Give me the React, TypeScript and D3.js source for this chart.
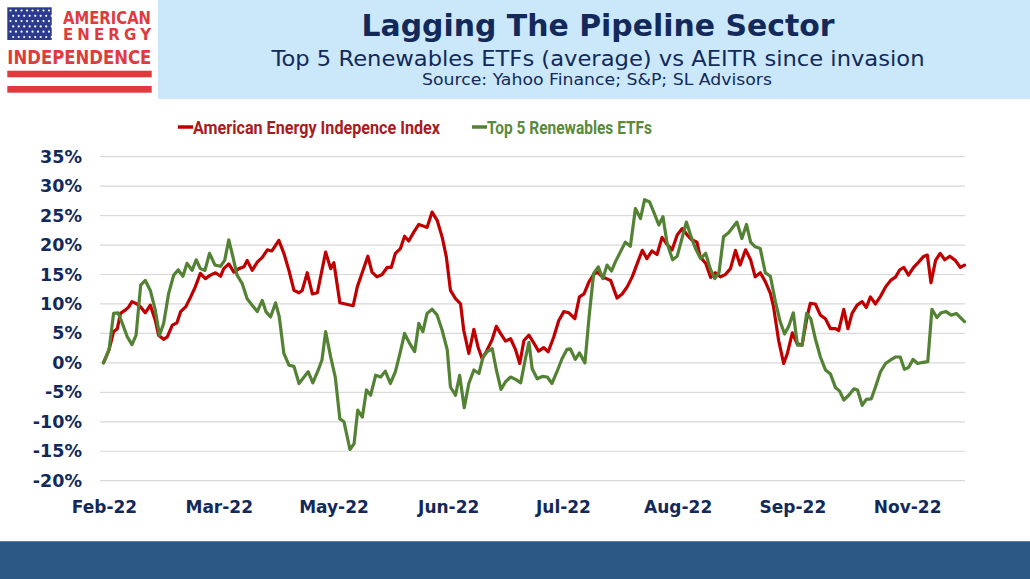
import React from "react";
import * as d3 from "d3";

// ---- DATA (trading-day index since invasion, % return) ----
const aeiPoints: [number, number][] = [
  [0, 0], [1.2, 2.2], [2.2, 5.3], [3, 5.8], [3.7, 8.4], [4.8, 9], [5.5, 9.5], [6.2, 10.4], [7.3, 10], [8.1, 9.5],
  [9.1, 8.5], [10.2, 9.8], [11.3, 7.2], [12, 4.7], [13.1, 4], [13.9, 4.4], [15, 6.4], [16, 6.8], [16.8, 8.7], [17.9, 9.5],
  [19, 11.2], [20, 12.9], [21.1, 15.2], [22.2, 14.3], [23.3, 14.9], [24.4, 15.3], [25.5, 14.7], [26.2, 16], [27.3, 16.8], [28.4, 15.4],
  [29.5, 16], [30.6, 16.3], [31.3, 17.4], [32.4, 15.7], [33.5, 17.1], [34.6, 17.9], [35.7, 19.2], [36.7, 19], [38.2, 20.8], [39.3, 18.6],
  [40.4, 15.7], [41.5, 12.3], [42.6, 11.9], [43.3, 12.3], [44.4, 15.3], [45.5, 11.7], [46.6, 11.9], [48.4, 18.8], [49.5, 16], [50.2, 17],
  [51.5, 10.2], [52.7, 10], [54.4, 9.7], [55.3, 12.9], [56.4, 15.4], [57.6, 18.1], [58.5, 15.4], [59.6, 14.6], [60.7, 15], [61.8, 16.2],
  [62.7, 16.2], [63.6, 18.6], [64.7, 19.4], [65.6, 21.5], [66.5, 20.7], [67.6, 22.2], [68.7, 23.5], [69.8, 23.2], [70.5, 23], [71.6, 25.6],
  [72.7, 24.2], [73.8, 21.3], [74.7, 18], [75.6, 12.3], [76.7, 10.9], [77.8, 10], [78.5, 5.5], [79.6, 1.6], [80.7, 5.7], [81.6, 2.7],
  [82.5, 0.7], [83.6, 2.2], [84.7, 4], [85.6, 6.2], [86.5, 5], [87.6, 3.7], [88.7, 4.1], [89.8, 2.2], [90.7, -0.1], [91.6, 3.8],
  [92.7, 4.7], [93.8, 3.3], [94.8, 2], [95.9, 2.6], [96.9, 1.9], [98.1, 4.4], [99.2, 7.2], [100.3, 8.7], [101.4, 8.5], [102.7, 7.5],
  [103.7, 11.2], [104.7, 11.7], [105.8, 13.8], [106.8, 15], [107.6, 15.4], [108.7, 14.6], [110.5, 14], [111.9, 11], [113, 11.7], [114.1, 12.9],
  [115.2, 14.6], [116.3, 16.9], [117.4, 19.1], [118.4, 17.7], [119.5, 19], [120.6, 18.4], [121.7, 21.3], [122.8, 20.1], [123.9, 19.2], [125, 21.7],
  [126.1, 22.8], [127.2, 21.7], [128.2, 20.9], [129.3, 20.5], [130, 18], [131.2, 16.9], [132.3, 14.5], [133.3, 15.3], [134.4, 14.6], [135.5, 15],
  [136.6, 16], [137.7, 19.1], [138.7, 16.6], [139.9, 19.2], [141, 17.5], [142, 14.6], [143.1, 15.3], [144.2, 13.8], [145.3, 11.8], [146, 9.5],
  [147.1, 3.8], [148.2, -0.1], [149, 1.6], [150.1, 5.1], [151.1, 3.3], [152.2, 3], [153.3, 7.8], [154, 10.1], [155.1, 10], [156.2, 8.1],
  [157.3, 7.5], [158.4, 5.8], [159.5, 5.8], [160.2, 5.5], [161.3, 9.1], [162.2, 5.8], [163.1, 8.4], [164.2, 9.8], [165.3, 10.4], [166.2, 9.4],
  [167.1, 11.2], [168.2, 10], [169.3, 11.3], [170.4, 12.9], [171.5, 14], [172.6, 14.6], [173.5, 15.8], [174.4, 16.2], [175.4, 14.9], [176.5, 16.2],
  [177.6, 17.1], [178.6, 18], [179.5, 18.3], [180.3, 13.6], [181.3, 17.4], [182.3, 18.6], [183.3, 17.5], [184.4, 18.1], [185.6, 17.4], [186.7, 16.2],
  [187.6, 16.6],
];

const renewPoints: [number, number][] = [
  [0, 0], [1.2, 2.2], [2.2, 8.4], [3.2, 8.5], [4.1, 6.7], [5.2, 4.4], [6.2, 3.1], [7.1, 4.7], [8.1, 13.2], [9.1, 14],
  [10.2, 12.3], [11.3, 8.9], [12.2, 4.7], [13.1, 6.7], [14.2, 11.8], [15.3, 14.9], [16.3, 15.8], [17.3, 14.7], [18.2, 16.9], [19.3, 15.7],
  [20.2, 17.5], [21.1, 16], [22.1, 15.7], [23.1, 18.6], [24.3, 16.6], [25.5, 16.4], [26.4, 17.4], [27.3, 20.9], [28.2, 18], [29.1, 14.9],
  [30.2, 13.5], [31.3, 10.9], [32.4, 9.8], [33.5, 8.7], [34.6, 10.6], [35.4, 8.7], [36.4, 7.8], [37.5, 10.2], [38.3, 7.8], [39.3, 1.6],
  [40.4, -0.4], [41.5, -0.6], [42.6, -3.5], [43.4, -2.7], [44.6, -1.5], [45.6, -3.4], [46.8, -1.2], [47.6, 0.5], [48.4, 5.3], [49.5, 1],
  [50.5, -2.4], [51.5, -9.5], [52.4, -10], [53.7, -14.7], [54.6, -13.7], [55.4, -8], [56.4, -9.2], [57.3, -4.6], [58.2, -5.5], [59.3, -2.1],
  [60.4, -2.4], [61.4, -1.4], [62.5, -3.5], [63.6, -1.5], [64.6, 1.6], [65.6, 5], [66.7, 3.3], [67.8, 1.9], [68.7, 6.7], [69.6, 5.3],
  [70.5, 8.4], [71.6, 9.1], [72.7, 8.1], [73.8, 5.5], [74.9, 2.2], [75.6, -4.1], [76.7, -5.5], [77.6, -2.1], [78.6, -7.6], [79.6, -3.5],
  [80.7, -1.2], [81.8, -1.8], [82.7, 1], [83.6, 1.9], [84.7, 2.4], [85.6, -1.2], [86.6, -4.5], [87.6, -3.2], [88.7, -2.4], [89.8, -2.8],
  [90.9, -3.4], [92, 1], [92.7, 3.5], [93.4, -1], [94.5, -2.7], [95.6, -2.3], [96.7, -2.4], [97.7, -3.5], [98.8, -1.5], [99.9, 0.7],
  [101, 2.3], [101.7, 2.4], [102.8, 0.6], [103.7, 1.7], [104.9, 0], [105.8, 7.8], [106.8, 15.2], [107.8, 16.3], [108.8, 14.3], [109.7, 16.6],
  [110.7, 15.6], [111.5, 17.1], [112.6, 18.8], [113.7, 20.5], [114.8, 19.8], [115.9, 26.2], [117, 24.5], [117.9, 27.7], [119, 27.3], [119.9, 25.6],
  [121, 23.4], [121.9, 24.8], [122.8, 20.3], [124, 17.5], [125, 18.1], [126.1, 21.3], [127, 23.9], [127.9, 21.7], [129, 19.4], [130.1, 17.7],
  [131.2, 18.6], [132.2, 16], [133.2, 14.3], [134.1, 15.3], [135.1, 21.4], [136.2, 22.1], [137.3, 23.2], [138, 23.9], [139.1, 21.1], [140.1, 23.5],
  [141, 20.5], [142, 19.7], [143.1, 19.4], [144.2, 15.3], [145.3, 14.7], [146.4, 10.4], [147.4, 7.1], [148.4, 4.9], [149.3, 6.2], [150.3, 8.5],
  [151.2, 3], [152.2, 3], [153.2, 8.4], [154.1, 7.5], [155.1, 4.1], [156.2, 1], [157.3, -1.2], [158.4, -1.9], [159.5, -4.2], [160.4, -4.8],
  [161.3, -6.3], [162.4, -5.5], [163.5, -4.4], [164.3, -4.6], [165.3, -7.2], [166.2, -6.2], [167.3, -6.1], [168.2, -4.1], [169.3, -1.5], [170.4, -0.1],
  [171.5, 0.5], [172.6, 1], [173.6, 1], [174.5, -1.1], [175.4, -0.8], [176.4, 0.6], [177.4, -0.1], [178.6, 0.1], [179.6, 0.2], [180.5, 9.1],
  [181.6, 7.7], [182.5, 8.5], [183.6, 8.7], [184.7, 8.1], [185.8, 8.4], [187.6, 7],
];

const xTickIdx = [0, 25, 50, 75, 100, 125, 150, 175];
const xTickLabels = ["Feb-22", "Mar-22", "May-22", "Jun-22", "Jul-22", "Aug-22", "Sep-22", "Nov-22"];
const yTicks = [-20, -15, -10, -5, 0, 5, 10, 15, 20, 25, 30, 35];

const seriesNames = ["American Energy Indepence Index", "Top 5 Renewables ETFs"];

const W = 1030;
const H = 579;
const NAVY = "#12295a";
const RED = "#c00000";
const GREEN = "#548235";

export default function App() {
  const x = d3.scaleLinear().domain([0, 187.6]).range([103.5, 964.5]);
  const y = d3.scaleLinear().domain([-20, 35]).range([480.7, 156.7]);
  const line = d3
    .line<[number, number]>()
    .x((d) => x(d[0]))
    .y((d) => y(d[1]));

  const stars: React.ReactNode[] = [];
  for (let r = 0; r < 6; r++) {
    for (let c = 0; c < 8; c++) {
      stars.push(
        <circle key={`s${r}-${c}`} cx={10.5 + c * 5.5 + (r % 2) * 2.7} cy={10.5 + r * 5.3} r={1.1} fill="#ffffff" />
      );
    }
  }

  return (
    <svg
      width={W}
      height={H}
      viewBox={`0 0 ${W} ${H}`}
      style={{ position: "absolute", left: 0, top: 0, background: "#ffffff" }}
    >
      {/* header */}
      <rect x={158} y={0} width={W - 158} height={99} fill="#cbe8fa" />
      <text x={598} y={36} textAnchor="middle" fontFamily="DejaVu Sans" fontWeight="bold" fontSize={29.5}
        fill={NAVY} textLength={473} lengthAdjust="spacingAndGlyphs">Lagging The Pipeline Sector</text>
      <text x={598} y={66} textAnchor="middle" fontFamily="DejaVu Sans" fontSize={22}
        fill={NAVY} textLength={653} lengthAdjust="spacingAndGlyphs">Top 5 Renewables ETFs (average) vs AEITR since invasion</text>
      <text x={597} y={84.5} textAnchor="middle" fontFamily="DejaVu Sans" fontSize={15}
        fill={NAVY} textLength={350} lengthAdjust="spacingAndGlyphs">Source: Yahoo Finance; S&amp;P; SL Advisors</text>

      {/* logo */}
      <rect x={7.3} y={7.3} width={44.4} height={32.7} fill="#2c3b8e" />
      {stars}
      <text x={63} y={23.5} fontFamily="DejaVu Sans" fontWeight="bold" fontSize={18} fill="#de3b3f"
        textLength={88} lengthAdjust="spacingAndGlyphs">AMERICAN</text>
      <text x={63} y={40} fontFamily="DejaVu Sans" fontWeight="bold" fontSize={15} fill="#de3b3f"
        textLength={88} lengthAdjust="spacing">ENERGY</text>
      <text x={7.3} y={64.3} fontFamily="DejaVu Sans" fontWeight="bold" fontSize={19.5} fill="#de3b3f"
        textLength={144} lengthAdjust="spacingAndGlyphs">INDEPENDENCE</text>
      <rect x={7.3} y={70.7} width={144.4} height={6.6} fill="#de3b3f" />
      <rect x={7.3} y={86} width={144.4} height={6.7} fill="#de3b3f" />

      {/* legend */}
      <line x1={178} x2={193} y1={127} y2={127} stroke={RED} strokeWidth={3.5} />
      <text x={193} y={133.5} fontFamily="'Liberation Sans Narrow', Roboto, sans-serif" fontWeight="bold" fontSize={19}
        fill="#a61c1f" textLength={247} lengthAdjust="spacingAndGlyphs">{seriesNames[0]}</text>
      <line x1={472} x2={487} y1={127} y2={127} stroke={GREEN} strokeWidth={3.5} />
      <text x={487} y={133.5} fontFamily="'Liberation Sans Narrow', Roboto, sans-serif" fontWeight="bold" fontSize={19}
        fill="#5b8a3c" textLength={165} lengthAdjust="spacingAndGlyphs">{seriesNames[1]}</text>

      {/* gridlines */}
      {yTicks.map((t) => (
        <line key={`g${t}`} x1={100} x2={965} y1={y(t)} y2={y(t)} stroke="#d9d9d9" strokeWidth={1.2} />
      ))}
      {/* y labels */}
      {yTicks.map((t) => (
        <text key={`yl${t}`} x={82} y={y(t) + 6} textAnchor="end" fontFamily="DejaVu Sans" fontWeight="bold"
          fontSize={17.5} fill={NAVY}>{`${t}%`}</text>
      ))}
      {/* x labels */}
      {xTickIdx.map((i, k) => (
        <text key={`xl${i}`} x={x(i) + 1} y={513} textAnchor="middle" fontFamily="DejaVu Sans" fontWeight="bold"
          fontSize={17} fill={NAVY}>{xTickLabels[k]}</text>
      ))}

      {/* series */}
      <path d={line(aeiPoints) || ""} fill="none" stroke={RED} strokeWidth={3.2} strokeLinejoin="round" strokeLinecap="round" />
      <path d={line(renewPoints) || ""} fill="none" stroke={GREEN} strokeWidth={3.2} strokeLinejoin="round" strokeLinecap="round" />

      {/* bottom band */}
      <rect x={0} y={541.5} width={W} height={H - 541.5} fill="#2c5886" />
      <line x1={0} x2={W} y1={541.5} y2={541.5} stroke="#5a7ea6" strokeWidth={1} />
    </svg>
  );
}
